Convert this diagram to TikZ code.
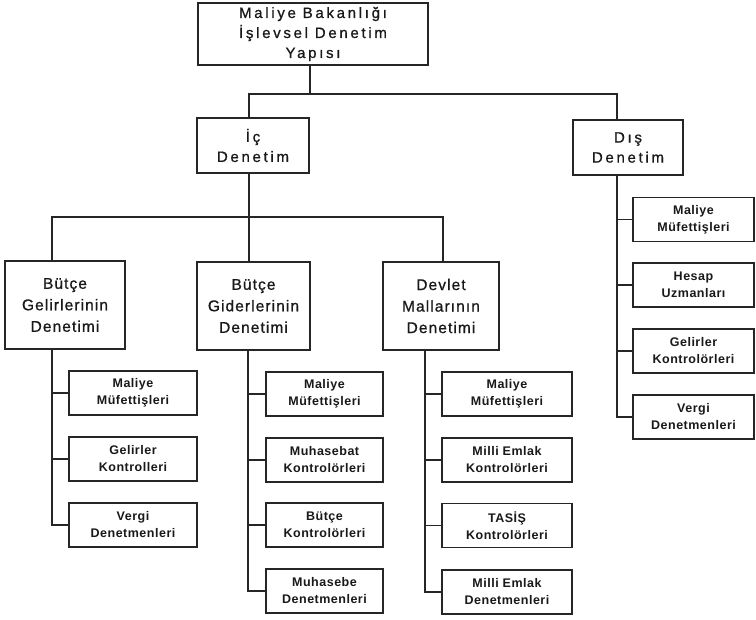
\documentclass[tikz,border=0pt]{standalone}
\usepackage{fontspec}
\setmainfont{Liberation Sans}
\newfontfamily\topfam[LetterSpace=18,FakeBold=0.8]{Liberation Sans}
\newfontfamily\midfam[LetterSpace=7,FakeBold=0.8]{Liberation Sans}
\newfontfamily\leaffam[LetterSpace=4]{Liberation Sans Bold}
\tikzset{
  box/.style={draw=black!85, line width=1.2pt, inner sep=0pt, align=center, text=black!90},
  topbox/.style={box, font=\topfam\fontsize{15pt}{20pt}\selectfont},
  midbox/.style={box, font=\midfam\fontsize{15.5pt}{21.5pt}\selectfont, minimum height=88pt},
  leafbox/.style={box, font=\leaffam\fontsize{12.5pt}{17pt}\selectfont, minimum height=44pt},
  conn/.style={draw=black!85, line width=1.2pt}
}
\begin{document}
\begin{tikzpicture}[x=1pt,y=-1pt]
\useasboundingbox[fill=white] (0,0) rectangle (756,620);

% level 0
\node[topbox, minimum width=230pt, minimum height=62pt] (top) at (313,34) {Maliye Bakanlığı\\İşlevsel Denetim\\Yapısı};

% level 1
\node[topbox, minimum width=112pt, minimum height=55pt] (ic) at (253,145.5) {İç\\Denetim};
\node[topbox, minimum width=110pt, minimum height=55pt] (dis) at (628,147.5) {Dış\\Denetim};

% level 2
\node[midbox, minimum width=120pt] (bg) at (65,305) {Bütçe\\Gelirlerinin\\Denetimi};
\node[midbox, minimum width=113pt] (bd) at (253.5,306) {Bütçe\\Giderlerinin\\Denetimi};
\node[midbox, minimum width=116pt] (dm) at (441,306) {Devlet\\Mallarının\\Denetimi};

% leaves of bg
\node[leafbox, minimum width=128pt] (bg1) at (133,393) {Maliye\\Müfettişleri};
\node[leafbox, minimum width=128pt] (bg2) at (133,459) {Gelirler\\Kontrolleri};
\node[leafbox, minimum width=128pt] (bg3) at (133,525) {Vergi\\Denetmenleri};

% leaves of bd
\node[leafbox, minimum width=117pt] (bd1) at (324.5,394) {Maliye\\Müfettişleri};
\node[leafbox, minimum width=117pt] (bd2) at (324.5,460) {Muhasebat\\Kontrolörleri};
\node[leafbox, minimum width=117pt] (bd3) at (324.5,525) {Bütçe\\Kontrolörleri};
\node[leafbox, minimum width=117pt] (bd4) at (324.5,591) {Muhasebe\\Denetmenleri};

% leaves of dm
\node[leafbox, minimum width=130pt] (dm1) at (507,394) {Maliye\\Müfettişleri};
\node[leafbox, minimum width=130pt] (dm2) at (507,460) {Milli Emlak\\Kontrolörleri};
\node[leafbox, minimum width=130pt] (dm3) at (507,525.5) {TASİŞ\\Kontrolörleri};
\node[leafbox, minimum width=130pt] (dm4) at (507,592) {Milli Emlak\\Denetmenleri};

% leaves of dis
\node[leafbox, minimum width=121pt] (ds1) at (693.5,219.5) {Maliye\\Müfettişleri};
\node[leafbox, minimum width=121pt] (ds2) at (693.5,285) {Hesap\\Uzmanları};
\node[leafbox, minimum width=121pt] (ds3) at (693.5,351) {Gelirler\\Kontrolörleri};
\node[leafbox, minimum width=121pt] (ds4) at (693.5,417) {Vergi\\Denetmenleri};

% bus points and spines
\coordinate (j0) at (310,94);
\coordinate (j1) at (249,217);
\coordinate (s1) at (52,0);
\coordinate (s2) at (248,0);
\coordinate (s3) at (425,0);
\coordinate (s4) at (617,0);

% connectors level 0 -> 1
\draw[conn] (top.south -| j0) -- (j0);
\draw[conn] (ic.north -| j1) |- (j0) -| (dis.north -| s4);

% connectors level 1 -> 2
\draw[conn] (ic.south -| j1) -- (bd.north -| j1);
\draw[conn] (bg.north -| s1) |- (j1) -| ([xshift=2pt]dm.north);

% spines
\draw[conn] (bg.south -| s1) |- (bg3.west);
\draw[conn] (bg1.west) -- (bg1.west -| s1);
\draw[conn] (bg2.west) -- (bg2.west -| s1);

\draw[conn] (bd.south -| s2) |- (bd4.west);
\draw[conn] (bd1.west) -- (bd1.west -| s2);
\draw[conn] (bd2.west) -- (bd2.west -| s2);
\draw[conn] (bd3.west) -- (bd3.west -| s2);

\draw[conn] (dm.south -| s3) |- (dm4.west);
\draw[conn] (dm1.west) -- (dm1.west -| s3);
\draw[conn] (dm2.west) -- (dm2.west -| s3);
\draw[conn] (dm3.west) -- (dm3.west -| s3);

\draw[conn] (dis.south -| s4) |- (ds4.west);
\draw[conn] (ds1.west) -- (ds1.west -| s4);
\draw[conn] (ds2.west) -- (ds2.west -| s4);
\draw[conn] (ds3.west) -- (ds3.west -| s4);
\end{tikzpicture}
\end{document}
